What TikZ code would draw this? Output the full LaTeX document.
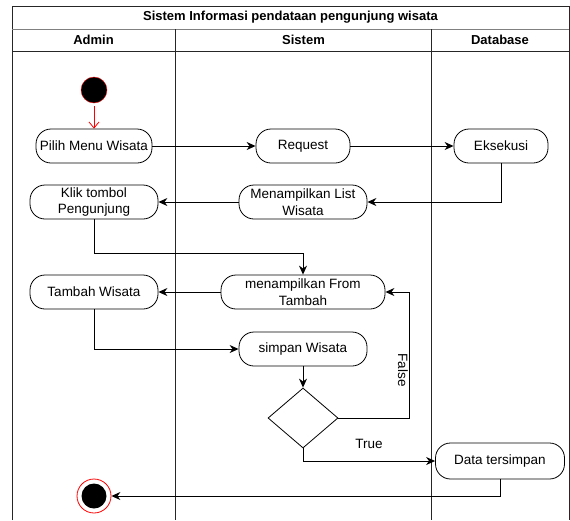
\documentclass[tikz,border=0pt]{standalone}
\usepackage{fontspec}
\setmainfont{Liberation Sans}
\usetikzlibrary{arrows.meta,shapes.geometric}

\tikzset{
  lane/.style={line width=0.9pt, black!85},
  head/.style={font=\bfseries\fontsize{13}{15}\selectfont},
  act/.style={draw, line width=0.8pt, rounded corners=15pt, minimum height=34pt,
              inner sep=1pt, align=center, font=\fontsize{13.5}{16.5}\selectfont},
  lbl/.style={font=\fontsize{13.5}{16}\selectfont, inner sep=1pt},
  arr/.style={-{Stealth[length=9pt,width=8pt]}, line width=0.9pt},
  startarr/.style={red, line width=0.8pt, -{Straight Barb[length=6pt,width=10pt]}, shorten <=3pt},
  initial/.style={circle, draw=red, fill=black, minimum size=26pt, inner sep=0pt},
  final/.style={circle, draw=red, line width=0.8pt, minimum size=34pt, inner sep=0pt,
                path picture={\fill[black] (path picture bounding box.center) circle (12.5pt);}},
  decision/.style={diamond, draw, line width=0.8pt, minimum width=70pt, minimum height=60pt, inner sep=0pt}
}

\begin{document}
\begin{tikzpicture}[x=1pt,y=-1pt]
    \useasboundingbox (0,0) rectangle (570,520);

    % Pool and lanes
    \draw[lane] (12,520) -- (12,6) -- (569,6) -- (569,520);
    \draw[gray, line width=1pt] (12,29) -- (569,29);
    \draw[lane] (12,51) -- (569,51);
    \foreach \x in {175.5,431.5} \draw[lane] (\x,29) -- (\x,520);
    \node[head] (pool) at (290.5,17.5) {Sistem Informasi pendataan pengunjung wisata};
    \node[head] (admin) at (93.5,40) {Admin};
    \node[head] (sistem) at (303.5,40) {Sistem};
    \node[head] (db) at (500,40) {Database};

    % Activities
    \node[initial] (start) at (94,90) {};
    \node[act, minimum width=116pt] (pilih) at (94,146) {Pilih Menu Wisata};
    \node[act, minimum width=94pt] (req) at (303,146) {Request};
    \node[act, minimum width=94pt] (eks) at (501,146) {Eksekusi};
    \node[act, minimum width=128pt] (klik) at (94,202) {Klik tombol\\Pengunjung};
    \node[act, minimum width=128pt] (list) at (303,202) {Menampilkan List\\Wisata};
    \node[act, minimum width=164pt] (mform) at (303,292) {menampilkan From\\Tambah};
    \node[act, minimum width=128pt] (tambah) at (94,292) {Tambah Wisata};
    \node[act, minimum width=128pt] (simpan) at (303,349) {simpan Wisata};
    \node[decision] (dec) at (303,418) {};
    \node[act, minimum width=129pt, minimum height=36pt] (data) at (500,461) {Data tersimpan};
    \node[final] (end) at (94,496) {};

    % Flows
    \draw[startarr] (start) -- (pilih);
    \draw[arr] (pilih) -- (req);
    \draw[arr] (req) -- (eks);
    \draw[arr] (eks.south) |- (list.east);
    \draw[arr] (list) -- (klik);
    \draw[arr] (klik.south) -- ++(0,34) -| (mform.north);
    \draw[arr] (mform) -- (tambah);
    \draw[arr] (tambah.south) |- (simpan.west);
    \draw[arr] (simpan) -- (dec);
    \draw[arr] (dec.east) -- ++(71,0) |- node[pos=0.19, rotate=-90, anchor=north, lbl] {False} (mform.east);
    \draw[arr] (dec.south) |- node[pos=0.75, above=11pt, lbl] {True} (data.west);
    \draw[arr] (data.south) |- (end.east);
\end{tikzpicture}
\end{document}
